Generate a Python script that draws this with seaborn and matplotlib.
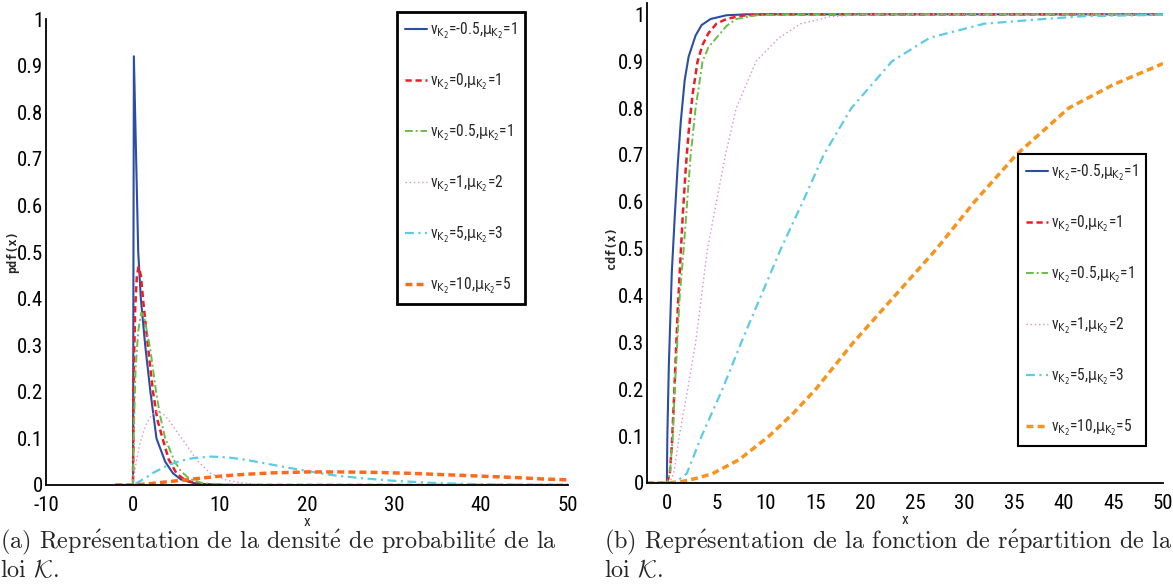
import pandas as pd
import matplotlib
matplotlib.use('Agg')
import matplotlib.pyplot as plt
from matplotlib.font_manager import FontProperties
import seaborn as sb

sb.set_style('white')
narrow = ['Liberation Sans Narrow', 'DejaVu Sans Condensed', 'Roboto Condensed', 'Roboto', 'DejaVu Sans']
plt.rcParams['font.family'] = narrow
plt.rcParams['font.stretch'] = 'condensed'
plt.rcParams['mathtext.fontset'] = 'custom'
plt.rcParams['mathtext.rm'] = 'DejaVu Sans:stretch=condensed'
plt.rcParams['mathtext.it'] = 'DejaVu Sans:stretch=condensed'
plt.rcParams['axes.unicode_minus'] = False

# ---- data ----
labels = [r'v$_{\mathrm{K}_2}$=-0.5,$\mu_{\mathrm{K}_2}$=1',
          r'v$_{\mathrm{K}_2}$=0,$\mu_{\mathrm{K}_2}$=1',
          r'v$_{\mathrm{K}_2}$=0.5,$\mu_{\mathrm{K}_2}$=1',
          r'v$_{\mathrm{K}_2}$=1,$\mu_{\mathrm{K}_2}$=2',
          r'v$_{\mathrm{K}_2}$=5,$\mu_{\mathrm{K}_2}$=3',
          r'v$_{\mathrm{K}_2}$=10,$\mu_{\mathrm{K}_2}$=5']

# pdf curves (left panel)
pdf_x_a = [-2, 0, 0.1, 0.6, 0.9, 1.4, 2.0, 2.7, 3.7, 4.6, 5.5, 7, 9, 12, 50]
pdf_y_a = [0, 0, 0.92, 0.5, 0.4, 0.3, 0.2, 0.1, 0.05, 0.025, 0.012, 0.004, 0.001, 0, 0]
pdf_x_b = [-2, 0, 0.1, 0.25, 0.45, 0.65, 0.9, 1.2, 1.7, 2.3, 2.8, 3.4, 4.1, 5, 6, 7.5, 10, 50]
pdf_y_b = [0, 0, 0.25, 0.38, 0.45, 0.468, 0.45, 0.39, 0.3, 0.2, 0.14, 0.1, 0.055, 0.025, 0.01, 0.003, 0, 0]
pdf_x_c = [-2, 0, 0.1, 0.3, 0.6, 0.95, 1.3, 1.6, 2.0, 2.65, 3.1, 3.7, 4.8, 5.5, 6.5, 8, 10, 50]
pdf_y_c = [0, 0, 0.12, 0.25, 0.33, 0.37, 0.36, 0.33, 0.29, 0.2, 0.15, 0.1, 0.05, 0.03, 0.013, 0.004, 0, 0]
pdf_x_d = [-2, 0, 0.05, 0.35, 0.8, 1.5, 2.2, 2.8, 3.5, 4.4, 5.2, 6, 7.3, 8.9, 10.8, 12.7, 15, 20, 50]
pdf_y_d = [0, 0, 0.01, 0.047, 0.09, 0.13, 0.152, 0.158, 0.152, 0.132, 0.11, 0.09, 0.054, 0.025, 0.01, 0.004, 0.001, 0, 0]
pdf_x_e = [-2, 0, 0.5, 1.5, 2.5, 4, 5.5, 7, 9, 11, 13, 15, 17, 20, 23, 26, 30, 35, 40, 45, 50]
pdf_y_e = [0, 0, 0.005, 0.016, 0.028, 0.042, 0.052, 0.058, 0.061, 0.059, 0.054, 0.047, 0.04, 0.03,
           0.021, 0.015, 0.009, 0.004, 0.0015, 0.0005, 0.0002]
pdf_x_f = [-2, 0, 2, 4, 6, 8, 10, 13, 16, 20, 24, 28, 32, 36, 40, 44, 47, 50]
pdf_y_f = [0, 0, 0.003, 0.007, 0.011, 0.015, 0.019, 0.023, 0.026, 0.028, 0.028, 0.027, 0.025,
           0.022, 0.019, 0.016, 0.013, 0.011]

# cdf curves (right panel)
cdf_x_a = [-2, 0, 0.05, 0.2, 0.5, 0.8, 1.1, 1.4, 1.8, 2.2, 2.9, 3.5, 4.4, 6, 8, 50]
cdf_y_a = [0, 0, 0.1, 0.25, 0.45, 0.57, 0.68, 0.77, 0.86, 0.91, 0.955, 0.977, 0.99, 0.998, 1, 1]
cdf_x_b = [-2, 0, 0.3, 0.5, 0.7, 0.9, 1.1, 1.35, 1.6, 1.9, 2.2, 2.6, 3.1, 3.6, 4.2, 5, 6, 7.5, 10, 50]
cdf_y_b = [0, 0, 0.02, 0.08, 0.17, 0.27, 0.37, 0.47, 0.57, 0.67, 0.75, 0.83, 0.9, 0.935, 0.96,
           0.98, 0.99, 0.997, 1, 1]
cdf_x_c = [-2, 0, 0.3, 0.6, 0.8, 1.05, 1.3, 1.7, 2.05, 2.4, 2.9, 3.6, 4.2, 5, 6, 7, 9, 12, 50]
cdf_y_c = [0, 0, 0.02, 0.1, 0.2, 0.3, 0.4, 0.5, 0.6, 0.7, 0.8, 0.9, 0.93, 0.95, 0.975, 0.99, 0.998, 1, 1]
cdf_x_d = [-2, 0, 0.3, 0.7, 1.25, 2.1, 2.9, 3.5, 4.1, 5.0, 5.9, 7.0, 9.0, 11.3, 13.5, 16.5, 20, 50]
cdf_y_d = [0, 0, 0.002, 0.02, 0.1, 0.2, 0.3, 0.4, 0.5, 0.6, 0.7, 0.8, 0.9, 0.95, 0.98, 0.995, 1, 1]
cdf_x_e = [-2, 0, 0.9, 2.0, 3.5, 5.6, 7.5, 9.5, 11.5, 13.7, 15.8, 18.6, 22.7, 26.5, 32, 38, 42, 50]
cdf_y_e = [0, 0, 0.002, 0.02, 0.1, 0.2, 0.3, 0.4, 0.5, 0.6, 0.7, 0.8, 0.9, 0.95, 0.98, 0.99, 0.996, 0.999]
cdf_x_f = [-2, 0, 1.5, 3, 4.6, 7.3, 10.3, 12.8, 15, 18.8, 23, 27.2, 31, 35.2, 40.5, 45, 50]
cdf_y_f = [0, 0, 0.003, 0.01, 0.02, 0.05, 0.1, 0.15, 0.2, 0.3, 0.4, 0.5, 0.6, 0.7, 0.8, 0.85, 0.895]

pdf_series = [(pdf_x_a, pdf_y_a), (pdf_x_b, pdf_y_b), (pdf_x_c, pdf_y_c),
              (pdf_x_d, pdf_y_d), (pdf_x_e, pdf_y_e), (pdf_x_f, pdf_y_f)]
cdf_series = [(cdf_x_a, cdf_y_a), (cdf_x_b, cdf_y_b), (cdf_x_c, cdf_y_c),
              (cdf_x_d, cdf_y_d), (cdf_x_e, cdf_y_e), (cdf_x_f, cdf_y_f)]

# ---- styles ----
styles = [
    dict(color='#2b4ea2', linestyle='-', linewidth=1.5),
    dict(color='#ee1c25', linestyle=(0, (2.5, 1.5)), linewidth=1.8),
    dict(color='#6cbd45', linestyle=(0, (4, 1.5, 1, 1.5)), linewidth=1.4),
    dict(color='#dd8fcf', linestyle=(0, (1, 2)), linewidth=1.0),
    dict(color='#5ccbe6', linestyle=(0, (4, 2, 1, 2)), linewidth=1.6),
    dict(color='#ff6a1a', linestyle=(0, (2, 1.2)), linewidth=2.5),
]

fig = plt.figure(figsize=(11.73, 5.85), dpi=100)
ax1 = fig.add_axes([46 / 1173, 100 / 585, 522 / 1173, 466 / 585])
ax2 = fig.add_axes([647 / 1173, 102 / 585, 516 / 1173, 480.4 / 585])


def draw(ax, series, orange):
    for i, (xs, ys) in enumerate(series):
        st = dict(styles[i])
        if i == 5:
            st['color'] = orange
        df = pd.DataFrame({'x': xs, 'y': ys})
        sb.lineplot(data=df, x='x', y='y', ax=ax, sort=False, estimator=None,
                    label=labels[i], **st)
    for s in ['top', 'right']:
        ax.spines[s].set_visible(False)
    for s in ['left', 'bottom']:
        ax.spines[s].set_color('black')
        ax.spines[s].set_linewidth(1.3)
    ax.tick_params(direction='in', labelsize=15, colors='black')
    ax.tick_params(axis='x', length=8, width=1, pad=8)
    ax.tick_params(axis='y', length=5, width=1, pad=2)
    ax.set_xlabel('x', fontsize=11, labelpad=0)
    ax.set_yticks([i / 10 for i in range(11)])
    ax.set_yticklabels(['0'] + ['0.%d' % i for i in range(1, 10)] + ['1'])


draw(ax1, pdf_series, '#ff6a1a')
draw(ax2, cdf_series, '#f7941e')

ax1.set_xlim(-10, 50)
ax1.set_ylim(0, 1)
ax1.set_xticks(range(-10, 51, 10))
ax1.set_ylabel('pdf(x)', fontsize=8.5, fontweight='bold', family='DejaVu Sans Mono')
ax1.yaxis.set_label_coords(-0.052, 0.5)

ax2.set_xlim(-2, 50)
ax2.set_ylim(0, 1.025)
ax2.set_xticks(range(0, 51, 5))
ax2.set_ylabel('cdf(x)', fontsize=8.5, fontweight='bold', family='DejaVu Sans Mono')
ax2.yaxis.set_label_coords(-0.056, 0.49)

leg_font = FontProperties(family=narrow, stretch='condensed', size=11.2)
leg_kw = dict(loc='upper right', borderaxespad=0, prop=leg_font, frameon=True, fancybox=False,
              framealpha=1, handlelength=1.4, handletextpad=0.15, labelspacing=1.95, borderpad=0.55)
leg1 = ax1.legend(bbox_to_anchor=(0.9176, 1.015), **leg_kw)
leg1.get_frame().set_edgecolor('black')
leg1.get_frame().set_linewidth(2)

leg2 = ax2.legend(bbox_to_anchor=(0.967, 0.685), **leg_kw)
leg2.get_frame().set_edgecolor('black')
leg2.get_frame().set_linewidth(1.5)

e_acc = r'$\acute{\mathrm{e}}$'
cap = dict(fontsize=17.5, family='cmr10', ha='left', va='baseline', math_fontfamily='cm')
fig.text(0 / 1173, 1 - 548 / 585,
         '(a) Repr' + e_acc + 'sentation de la densit' + e_acc + ' de probabilit' + e_acc + ' de la', **cap)
fig.text(0 / 1173, 1 - 577 / 585, r'loi $\mathcal{K}$.', **cap)
fig.text(604 / 1173, 1 - 548 / 585,
         '(b) Repr' + e_acc + 'sentation de la fonction de r' + e_acc + 'partition de la', **cap)
fig.text(604 / 1173, 1 - 577 / 585, r'loi $\mathcal{K}$.', **cap)

fig.savefig('out.png', dpi=100)
